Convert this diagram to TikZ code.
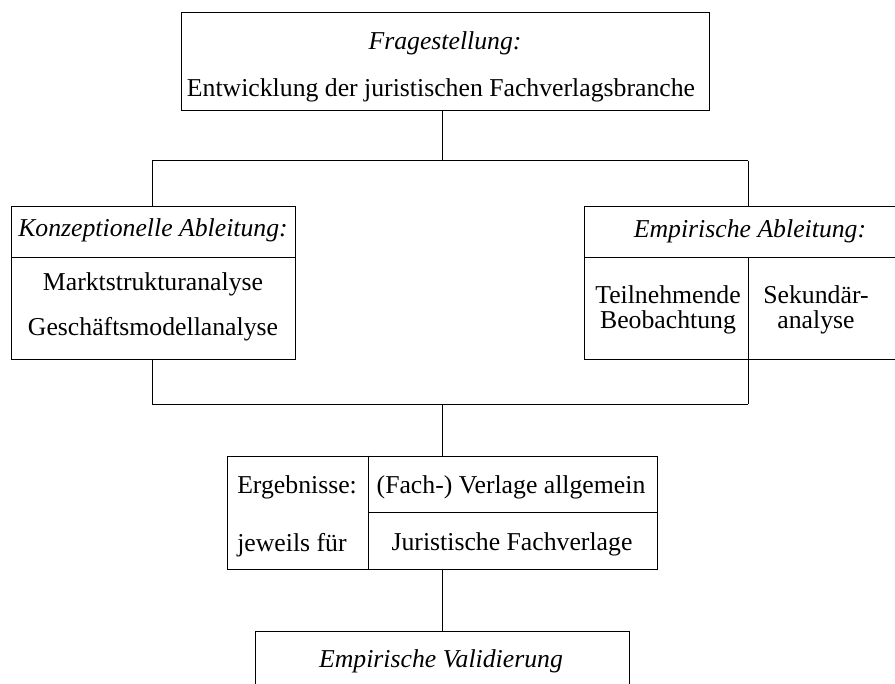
\documentclass[tikz,border=0pt]{standalone}
\usepackage{fontspec}
\setmainfont{Liberation Serif}
\begin{document}
\begin{tikzpicture}[x=0.75pt,y=-0.75pt,
  box/.style={draw, line width=0.75pt, rectangle, inner sep=0pt},
  txt/.style={anchor=base, inner sep=0pt, font=\fontsize{19.3}{19.3}\selectfont},
  ln/.style={line width=0.75pt}]
\useasboundingbox (0,0) rectangle (895,684);
\clip (0,0) rectangle (895,684);
% boxes
\node[box, minimum width=396pt, minimum height=73.5pt] (top) at (445,62) {};
\node[box, minimum width=213pt, minimum height=114pt] (kon) at (153,283) {};
\node[box, minimum width=237pt, minimum height=114pt] (emp) at (742,283) {};
\node[box, minimum width=322.5pt, minimum height=84.75pt] (res) at (442,512.5) {};
\node[box, minimum width=280.5pt, minimum height=51.75pt] (val) at (442,665.5) {};
% texts
\node[txt] (t1) at (445,50) {\itshape Fragestellung:};
\node[txt] (t2) at (441,97) {Entwicklung der juristischen Fachverlagsbranche};
\node[txt] (k1) at (153,237) {\itshape Konzeptionelle Ableitung:};
\node[txt] (k2) at (153,290) {Marktstrukturanalyse};
\node[txt] (k3) at (153,335) {Geschäftsmodellanalyse};
\node[txt] (e1) at (750,238) {\itshape Empirische Ableitung:};
\node[txt] (e2) at (668,303) {Teilnehmende};
\node[txt] (e3) at (668,328) {Beobachtung};
\node[txt] (e4) at (816,303) {Sekundär-};
\node[txt] (e5) at (816,328) {analyse};
\node[txt, anchor=base west] (r1) at (237,493) {Ergebnisse:};
\node[txt, anchor=base west] (r2) at (237,551) {jeweils für};
\node[txt] (r3) at (511,493) {(Fach-) Verlage allgemein};
\node[txt] (r4) at (512,550) {Juristische Fachverlage};
\node[txt] (v1) at (441,667) {\itshape Empirische Validierung};
% junction coordinates
\coordinate (j1) at (442,161);
\coordinate (hl) at (152,161);
\coordinate (hr) at (748,161);
\coordinate (bl) at (152,404);
\coordinate (br) at (748,404);
\coordinate (j2) at (442,404);
\coordinate (rd) at (368,0);
\coordinate (rh) at (0,512);
\coordinate (kd) at (0,257);
% dividers
\draw[ln] (kon.west |- kd) -- (kon.east |- kd);
\draw[ln] (emp.west |- kd) -- (emp.east |- kd);
\draw[ln] (hr |- kd) -- (br);
\draw[ln] (rd |- res.north) -- (rd |- res.south);
\draw[ln] (rd |- rh) -- (res.east |- rh);
% connectors
\draw[ln] (j1 |- top.south) -- (j1);
\draw[ln] (hl) -- (hr);
\draw[ln] (hl) -- (hl |- kon.north);
\draw[ln] (hr) -- (hr |- emp.north);
\draw[ln] (hl |- kon.south) -- (bl) -- (br);
\draw[ln] (j2) -- (j2 |- res.north);
\draw[ln] (j2 |- res.south) -- (j2 |- val.north);
\end{tikzpicture}
\end{document}
